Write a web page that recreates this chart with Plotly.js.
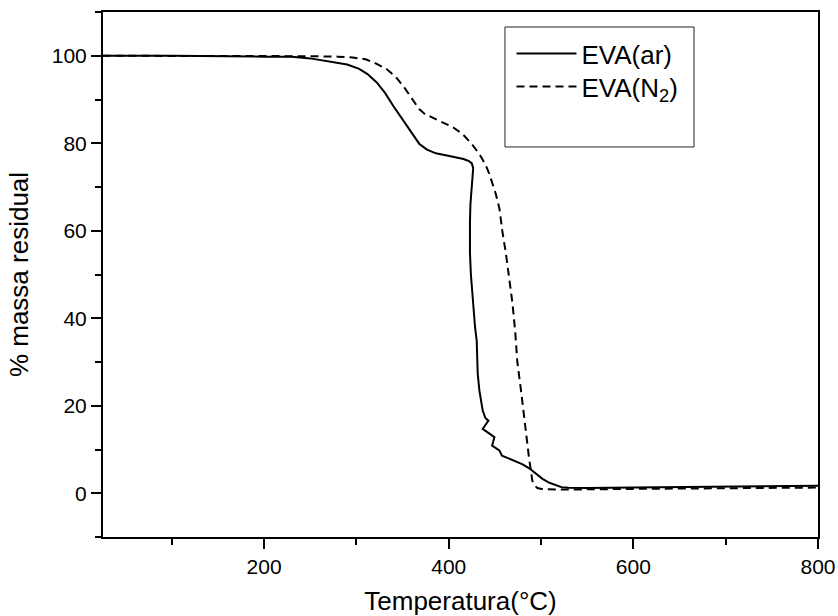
<!DOCTYPE html>
<html>
<head>
<meta charset="utf-8">
<script src="https://cdn.plot.ly/plotly-3.0.1.min.js"></script>
<style>html,body{margin:0;padding:0;background:#fff;}#chart{width:838px;height:616px;}</style>
</head>
<body>
<div id="chart"></div>
<script>
// EVA (ar) – solid curve
const tempAr = [25, 100, 200, 230, 250, 270, 290, 303, 312, 322, 331, 340, 348, 355, 362, 368, 376, 386, 398, 408, 416, 422, 425, 426.5, 425, 423.5, 423, 423, 424, 426, 428.5, 430.3, 431.4, 433.2, 436.8, 439.7, 443, 436.8, 442.2, 449.5, 447, 454.8, 457.7, 465, 472.9, 480, 487.2, 494, 501.6, 509, 516, 522, 530, 550, 600, 650, 700, 750, 800];
const massAr = [100, 100, 99.8, 99.8, 99.4, 98.7, 98, 97, 95.8, 93.9, 91.5, 88.5, 86, 83.7, 81.5, 79.9, 78.6, 77.7, 77.2, 76.8, 76.4, 75.9, 75.4, 74.3, 70, 66, 62, 55, 50, 44, 38, 34.9, 27.3, 23.5, 18.9, 17.2, 16.6, 14.7, 13.9, 12.8, 10.9, 9.8, 8.6, 8, 7.3, 6.6, 5.7, 4.6, 3.3, 2.4, 1.8, 1.4, 1.25, 1.2, 1.3, 1.4, 1.5, 1.6, 1.7];

// EVA (N2) – dashed curve
const tempN2 = [25, 100, 200, 250, 280, 296, 310, 321.5, 333, 343, 352, 361, 368, 374, 383, 393.7, 405, 415, 425, 433, 440, 444, 451, 455, 458, 462, 465.5, 469, 472, 474.3, 478.3, 481.5, 484, 486.9, 488.5, 490.5, 493, 496, 502, 510, 530, 600, 700, 800];
const massN2 = [100, 100, 100, 99.9, 99.8, 99.6, 99.2, 98.2, 96.9, 95.1, 92.7, 89.8, 87.8, 86.7, 85.8, 84.9, 83.6, 82.1, 79.8, 77.6, 75, 73, 68.4, 65, 60, 54.7, 49, 43.5, 37, 30, 23.5, 17.4, 13, 8.2, 5.9, 2.9, 1.8, 1.2, 0.9, 0.85, 0.85, 1.0, 1.15, 1.3];

const seriesNames = ['EVA(ar)', 'EVA(N<sub>2</sub>)'];
const xTitle = 'Temperatura(°C)';
const yTitle = '% massa residual';

const font = 'Arial, "Liberation Sans", sans-serif';

const traces = [
  {x: tempAr, y: massAr, mode: 'lines', name: seriesNames[0], legend: 'legend',
   line: {color: '#000', width: 2, dash: 'solid'}},
  {x: tempN2, y: massN2, mode: 'lines', name: seriesNames[1], legend: 'legend2',
   line: {color: '#000', width: 2, dash: '8px,5px'}}
];

const axisCommon = {
  showline: true, linecolor: '#000', linewidth: 2, mirror: true,
  ticks: 'outside', ticklen: 10, tickwidth: 2, tickcolor: '#000',
  showgrid: false, zeroline: false,
  tickfont: {family: font, size: 21, color: '#000'},
  minor: {ticks: 'outside', ticklen: 6, tickwidth: 2, tickcolor: '#000', showgrid: false}
};

const legendCommon = {
  xanchor: 'left', yanchor: 'top',
  bgcolor: 'rgba(0,0,0,0)', borderwidth: 0,
  itemwidth: 60,
  font: {family: font, size: 26, color: '#000'}
};

const layout = {
  width: 838, height: 616,
  margin: {l: 103, r: 20, t: 12, b: 79},
  paper_bgcolor: '#fff', plot_bgcolor: '#fff',
  font: {family: font, color: '#000'},
  xaxis: Object.assign({}, axisCommon, {
    range: [25.5, 800], tick0: 0, dtick: 200,
    minor: Object.assign({}, axisCommon.minor, {dtick: 100}),
    title: {text: xTitle, font: {family: font, size: 26, color: '#000'}, standoff: 18}
  }),
  yaxis: Object.assign({}, axisCommon, {
    range: [-10, 110], tick0: 0, dtick: 20,
    minor: Object.assign({}, axisCommon.minor, {dtick: 10}),
    title: {text: yTitle, font: {family: font, size: 26, color: '#000'}, standoff: 16}
  }),
  showlegend: true,
  legend: Object.assign({}, legendCommon, {x: 0.5713, y: 0.9657}),
  legend2: Object.assign({}, legendCommon, {x: 0.5713, y: 0.9029}),
  shapes: [
    {type: 'rect', xref: 'paper', yref: 'paper', x0: 0.5622, x1: 0.8266, y0: 0.7429, y1: 0.9714,
     line: {color: '#222', width: 1}, fillcolor: 'rgba(0,0,0,0)'}
  ]
};

Plotly.newPlot('chart', traces, layout, {staticPlot: true, displayModeBar: false});
</script>
</body>
</html>
